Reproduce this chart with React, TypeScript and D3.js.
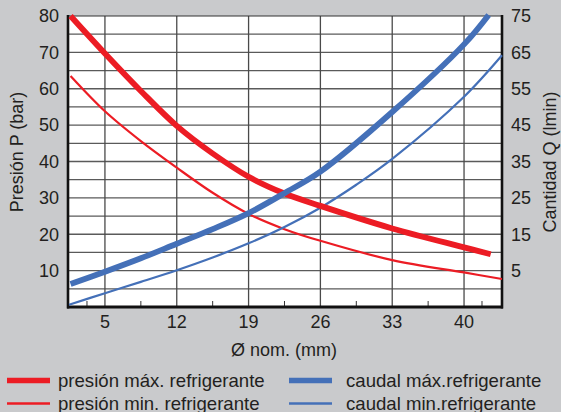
import React from "react";
import * as d3 from "d3";

// ---- data ----
const xTicks = [5, 12, 19, 26, 33, 40];
const xMinorTicks = [3.25, 8.5, 15.5, 22.5, 29.5, 36.5, 41.75];
const pTicks = [10, 20, 30, 40, 50, 60, 70, 80];
const qTicks = [5, 15, 25, 35, 45, 55, 65, 75];
const gridP = [5, 10, 15, 20, 25, 30, 35, 40, 45, 50, 55, 60, 65, 70, 75];

// presión máx. refrigerante (bar)
const pMaxX = [1.65, 5, 8.5, 12, 15.5, 19, 22.5, 26, 33, 40, 42.6];
const pMaxY = [80, 69.7, 59.4, 49.8, 42.2, 35.8, 31.2, 27.8, 21.6, 16.4, 14.5];

// presión min. refrigerante (bar)
const pMinX = [1.65, 5, 8.5, 12, 15.5, 19, 22.5, 26, 33, 40, 43.7];
const pMinY = [63.5, 53.8, 45.6, 38.3, 31.4, 25.6, 21.4, 18.2, 12.9, 9.5, 7.7];

// caudal máx. refrigerante (l/min)
const qMaxX = [1.65, 5, 8.5, 12, 15.5, 19, 22.5, 26, 33, 40, 42.4];
const qMaxY = [1.3, 4.7, 8.4, 12.4, 16.4, 20.8, 26.3, 32.2, 48.6, 67.2, 75.3];

// caudal min. refrigerante (l/min)
const qMinX = [1.5, 5, 8.5, 12, 15.5, 19, 22.5, 26, 29.5, 33, 40, 43.7];
const qMinY = [-4.4, -1.2, 1.9, 5.1, 8.6, 12.5, 17.0, 22.3, 28.6, 35.7, 52.8, 64.2];

const legendItems = [
  { label: "presión máx. refrigerante", color: "#ec1c24", w: 5.5, col: 0, row: 0 },
  { label: "presión min. refrigerante", color: "#ec1c24", w: 2.5, col: 0, row: 1 },
  { label: "caudal máx.refrigerante", color: "#4470b8", w: 5.5, col: 1, row: 0 },
  { label: "caudal min.refrigerante", color: "#4470b8", w: 2.5, col: 1, row: 1 },
];

const W = 561;
const H = 412;
const L = 68, R = 502, T = 16, B = 307;
const RED = "#ec1c24";
const BLUE = "#4470b8";
const TXT = "#231f20";
const FONT = "'Liberation Sans', Arial, Helvetica, sans-serif";

export default function App() {
  const x = d3.scaleLinear().domain([1.4, 43.7]).range([L, R]);
  const yP = d3.scaleLinear().domain([0, 80]).range([B, T]);
  const yQ = d3.scaleLinear().domain([-5, 75]).range([B, T]);

  const mk = (xs: number[], ys: number[], sy: d3.ScaleLinear<number, number>) =>
    d3
      .line<number>()
      .x((_, i) => x(xs[i]))
      .y((v) => sy(v))
      .curve(d3.curveCatmullRom.alpha(0.5))(ys) as string;

  return (
    <div style={{ position: "absolute", left: 0, top: 0 }}>
      <svg width={W} height={H} style={{ display: "block", fontFamily: FONT }}>
        <rect x={0} y={0} width={W} height={H} fill="#c9cacc" />
        <rect x={L} y={T} width={R - L} height={B - T} fill="#ffffff" />
        {/* grid */}
        {gridP.map((v) => (
          <line key={"h" + v} x1={L} x2={R} y1={yP(v)} y2={yP(v)} stroke="#5a5a5a" strokeWidth={1.3} />
        ))}
        {xTicks.map((v) => (
          <line key={"v" + v} x1={x(v)} x2={x(v)} y1={T} y2={B} stroke="#4a4a4a" strokeWidth={1.3} />
        ))}
        {xMinorTicks.map((v) => (
          <line key={"m" + v} x1={x(v)} x2={x(v)} y1={B - 6} y2={B} stroke="#333" strokeWidth={1} />
        ))}
        {/* frame */}
        <line x1={L} x2={R} y1={T} y2={T} stroke="#333" strokeWidth={1.2} />
        <line x1={L} x2={L} y1={T - 1} y2={B + 1.5} stroke="#111" strokeWidth={2.6} />
        <line x1={R} x2={R} y1={T - 1} y2={B + 1.5} stroke="#111" strokeWidth={2.6} />
        <line x1={L - 1} x2={R + 1} y1={B} y2={B} stroke="#111" strokeWidth={2.8} />

        {/* curves */}
        <path d={mk(pMinX, pMinY, yP)} fill="none" stroke={RED} strokeWidth={2.2} />
        <path d={mk(qMinX, qMinY, yQ)} fill="none" stroke={BLUE} strokeWidth={2.2} />
        <path d={mk(pMaxX, pMaxY, yP)} fill="none" stroke={RED} strokeWidth={5.8} />
        <path d={mk(qMaxX, qMaxY, yQ)} fill="none" stroke={BLUE} strokeWidth={5.8} />

        {/* axis tick labels */}
        {pTicks.map((v) => (
          <text key={"pl" + v} x={59} y={yP(v) + 6.3} textAnchor="end" fontSize={18} fill={TXT}>
            {v}
          </text>
        ))}
        {qTicks.map((v) => (
          <text key={"ql" + v} x={511} y={yQ(v) + 6.3} textAnchor="start" fontSize={18} fill={TXT}>
            {v}
          </text>
        ))}
        {xTicks.map((v) => (
          <text key={"xl" + v} x={x(v)} y={327.5} textAnchor="middle" fontSize={18} fill={TXT}>
            {v}
          </text>
        ))}
        <text x={284} y={356} textAnchor="middle" fontSize={18} fill={TXT}>
          Ø nom. (mm)
        </text>
        <text transform="translate(23,152) rotate(-90)" textAnchor="middle" fontSize={18} fill={TXT}>
          Presión P (bar)
        </text>
        <text transform="translate(556,162) rotate(-90)" textAnchor="middle" fontSize={18} fill={TXT}>
          Cantidad Q (lmin)
        </text>

        {/* legend */}
        {legendItems.map((d) => {
          const lx = d.col === 0 ? 7 : 289;
          const tx = d.col === 0 ? 58 : 346;
          const ly = d.row === 0 ? 380.5 : 403.5;
          return (
            <g key={d.label}>
              <line x1={lx} x2={lx + 43} y1={ly} y2={ly} stroke={d.color} strokeWidth={d.w} />
              <text x={tx} y={ly + 6.3} fontSize={18.6} fill={TXT}>
                {d.label}
              </text>
            </g>
          );
        })}
      </svg>
    </div>
  );
}
